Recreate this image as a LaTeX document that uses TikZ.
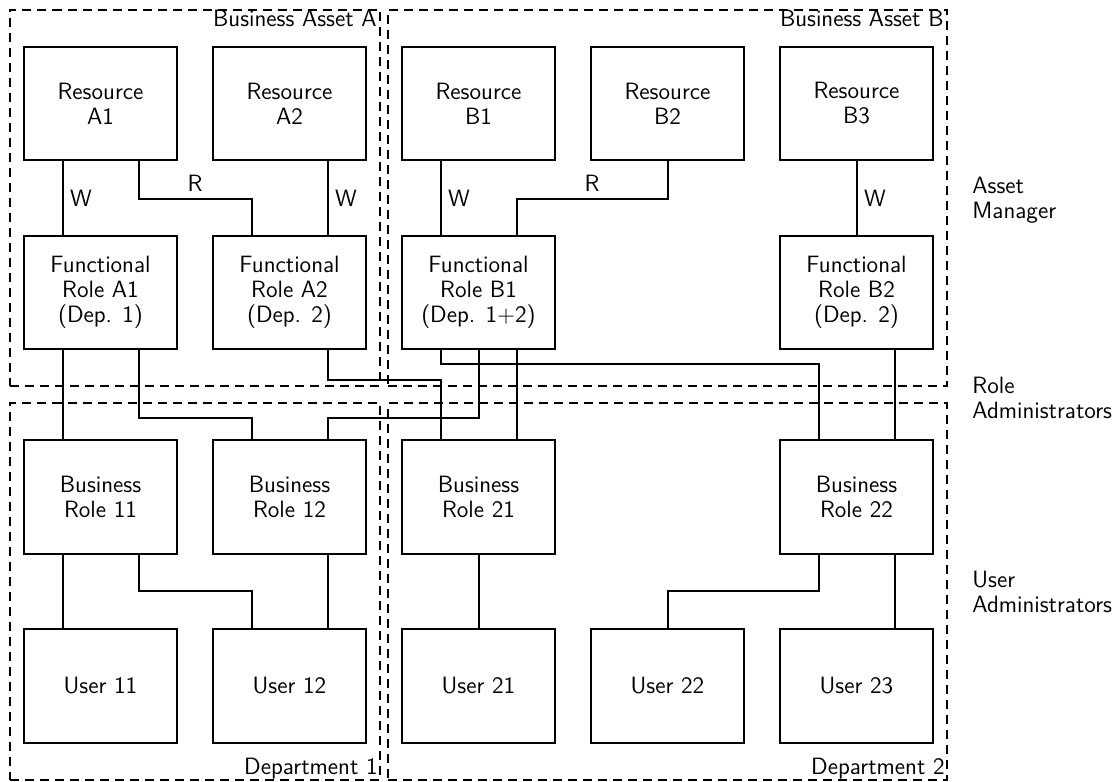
\documentclass[tikz,border=0pt]{standalone}
\usepackage{fontspec}
\usetikzlibrary{calc,fit}
\newcommand\dgfont{\sffamily\fontsize{11.8pt}{12.5pt}\selectfont}
\tikzset{
  box/.style={draw, line width=1.1pt, minimum width=76.5pt, minimum height=56.75pt,
    align=center, inner sep=2pt, outer sep=0pt, font=\dgfont},
  conn/.style={line width=1pt},
  region/.style={draw, dash pattern=on 4.5pt off 3pt, line width=1.1pt,
    inner xsep=7pt, inner ysep=18.5pt, outer sep=0pt},
  corner/.style={inner sep=0pt, font=\dgfont},
  side/.style={inner sep=0pt, font=\dgfont, align=left, anchor=north west},
  lab/.style={font=\dgfont}
}
\begin{document}
\begin{tikzpicture}[x=0.5pt, y=-0.5pt]
\useasboundingbox (0,0) rectangle (1120,782);
% row 1
\node[box] (ra1) at (100.5,103.5) {Resource\\A1};
\node[box] (ra2) at (289.5,103.5) {Resource\\A2};
\node[box] (rb1) at (478.5,103.5) {Resource\\B1};
\node[box] (rb2) at (667.5,103.5) {Resource\\B2};
\node[box] (rb3) at (856.5,103.5) {Resource\\B3};
% row 2
\node[box] (fa1) at (100.5,292.5) {Functional\\Role A1\\(Dep. 1)};
\node[box] (fa2) at (289.5,292.5) {Functional\\Role A2\\(Dep. 2)};
\node[box] (fb1) at (478.5,292.5) {Functional\\Role B1\\(Dep. 1+2)};
\node[box] (fb2) at (856.5,292.5) {Functional\\Role B2\\(Dep. 2)};
% row 3
\node[box] (br11) at (100.5,497) {Business\\Role 11};
\node[box] (br12) at (289.5,497) {Business\\Role 12};
\node[box] (br21) at (478.5,497) {Business\\Role 21};
\node[box] (br22) at (856.5,497) {Business\\Role 22};
% row 4
\node[box] (u11) at (100.5,686) {User 11};
\node[box] (u12) at (289.5,686) {User 12};
\node[box] (u21) at (478.5,686) {User 21};
\node[box] (u22) at (667.5,686) {User 22};
\node[box] (u23) at (856.5,686) {User 23};

% regions
\node[region, fit=(ra1)(fa2)] (bAA) {};
\node[region, fit=(rb1)(rb3)(fb2)] (bAB) {};
\node[region, fit=(br11)(u12)] (dep1) {};
\node[region, fit=(br21)(u23)] (dep2) {};
\node[corner, anchor=north east] (lA) at ($(bAA.north east)+(-3,0)$) {Business Asset A};
\node[corner, anchor=north east] (lB) at ($(bAB.north east)+(-3,0)$) {Business Asset B};
\node[corner, anchor=south east] (l1) at ($(dep1.south east)+(-2,0)$) {Department 1};
\node[corner, anchor=south east] (l2) at ($(dep2.south east)+(-2,0)$) {Department 2};

% side labels
\node[side] (am) at (972,176.6) {Asset\\Manager};
\node[side] (ra) at (972,376.6) {Role\\Administrators};
\node[side] (ua) at (972,570.6) {User\\Administrators};

% resources -> functional roles
\draw[conn] ($(ra1.south)+(-38,0)$) -- node[lab, right] {W} ($(fa1.north)+(-38,0)$);
\draw[conn] ($(ra1.south)+(38,0)$) -- ++(0,39) -| node[lab, pos=0.25, above] {R} ($(fa2.north)+(-38,0)$);
\draw[conn] ($(ra2.south)+(38,0)$) -- node[lab, right] {W} ($(fa2.north)+(38,0)$);
\draw[conn] ($(rb1.south)+(-38,0)$) -- node[lab, right] {W} ($(fb1.north)+(-38,0)$);
\draw[conn] (rb2.south) -- ++(0,39) -| node[lab, pos=0.25, above] {R} ($(fb1.north)+(38,0)$);
\draw[conn] (rb3.south) -- node[lab, right] {W} (fb2.north);

% functional roles -> business roles
\draw[conn] ($(fa1.south)+(-38,0)$) -- ($(br11.north)+(-38,0)$);
\draw[conn] ($(fa1.south)+(38,0)$) -- ++(0,69) -| ($(br12.north)+(-38,0)$);
\draw[conn] ($(fa2.south)+(38,0)$) -- ++(0,31) -| ($(br21.north)+(-38,0)$);
\draw[conn] ($(fb1.south)+(-38,0)$) -- ++(0,15) -| ($(br22.north)+(-38,0)$);
\draw[conn] (fb1.south) -- ++(0,69) -| ($(br12.north)+(38,0)$);
\draw[conn] ($(fb1.south)+(38,0)$) -- ($(br21.north)+(38,0)$);
\draw[conn] ($(fb2.south)+(38,0)$) -- ($(br22.north)+(38,0)$);

% business roles -> users
\draw[conn] ($(br11.south)+(-38,0)$) -- ($(u11.north)+(-38,0)$);
\draw[conn] ($(br11.south)+(38,0)$) -- ++(0,37) -| ($(u12.north)+(-38,0)$);
\draw[conn] ($(br12.south)+(38,0)$) -- ($(u12.north)+(38,0)$);
\draw[conn] (br21.south) -- (u21.north);
\draw[conn] ($(br22.south)+(-38,0)$) -- ++(0,37) -| (u22.north);
\draw[conn] ($(br22.south)+(38,0)$) -- ($(u23.north)+(38,0)$);
\end{tikzpicture}
\end{document}
